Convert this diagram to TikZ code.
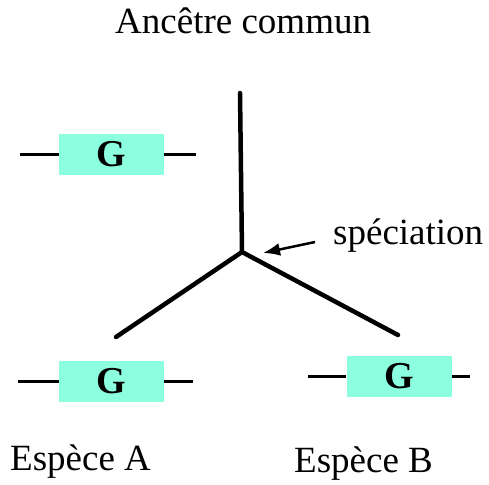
\documentclass[tikz,border=0pt]{standalone}
\usepackage{fontspec}
\setmainfont{Liberation Serif}
\usepackage{tikz}
\usetikzlibrary{arrows.meta}
\definecolor{genecol}{RGB}{140,255,222}

\begin{document}
\begin{tikzpicture}[x=1pt, y=-1pt,
  gene/.style={rectangle, fill=genecol, minimum width=105pt, minimum height=41pt, inner sep=0pt, font=\fontsize{38}{44}\selectfont\bfseries},
  label/.style={anchor=base west, inner sep=0pt, font=\fontsize{37}{44}\selectfont},
  branch/.style={line width=4.5pt, line cap=round, line join=miter},
  strand/.style={line width=2.5pt}]
\useasboundingbox (0,0) rectangle (489,484);
\node (anc) at (115,34) [label] {Ancêtre commun};
\node (spec) at (333,244) [label] {spéciation};
\node (espA) at (10,470) [label] {Espèce A};
\node (espB) at (294,472) [label] {Espèce B};
\node (g0) at (111.5,154.5) [gene] {G};
\node (gA) at (111.5,381.5) [gene] {G};
\node (gB) at (399,376.5) [gene] {G};
\coordinate (top) at (240,93);
\coordinate (split) at (242,252);
\coordinate (leftend) at (116,337);
\coordinate (rightend) at (398,335);
\coordinate (tail) at (315,242);
\coordinate (tip) at (263,253);
\coordinate (g0l) at (20,154.5);
\coordinate (g0r) at (196,154.5);
\coordinate (gAl) at (18,381.5);
\coordinate (gAr) at (193,381.5);
\coordinate (gBl) at (308,376.5);
\coordinate (gBr) at (470,376.5);
\draw [branch] (top) -- (split);
\draw [branch] (split) -- (leftend);
\draw [branch] (split) -- (rightend);
\draw [-{Latex[length=17pt,width=13pt]}, line width=2.5pt] (tail) -- (tip);
\draw [strand] (g0l) -- (g0);
\draw [strand] (g0) -- (g0r);
\draw [strand] (gAl) -- (gA);
\draw [strand] (gA) -- (gAr);
\draw [strand] (gBl) -- (gB);
\draw [strand] (gB) -- (gBr);
\end{tikzpicture}
\end{document}
